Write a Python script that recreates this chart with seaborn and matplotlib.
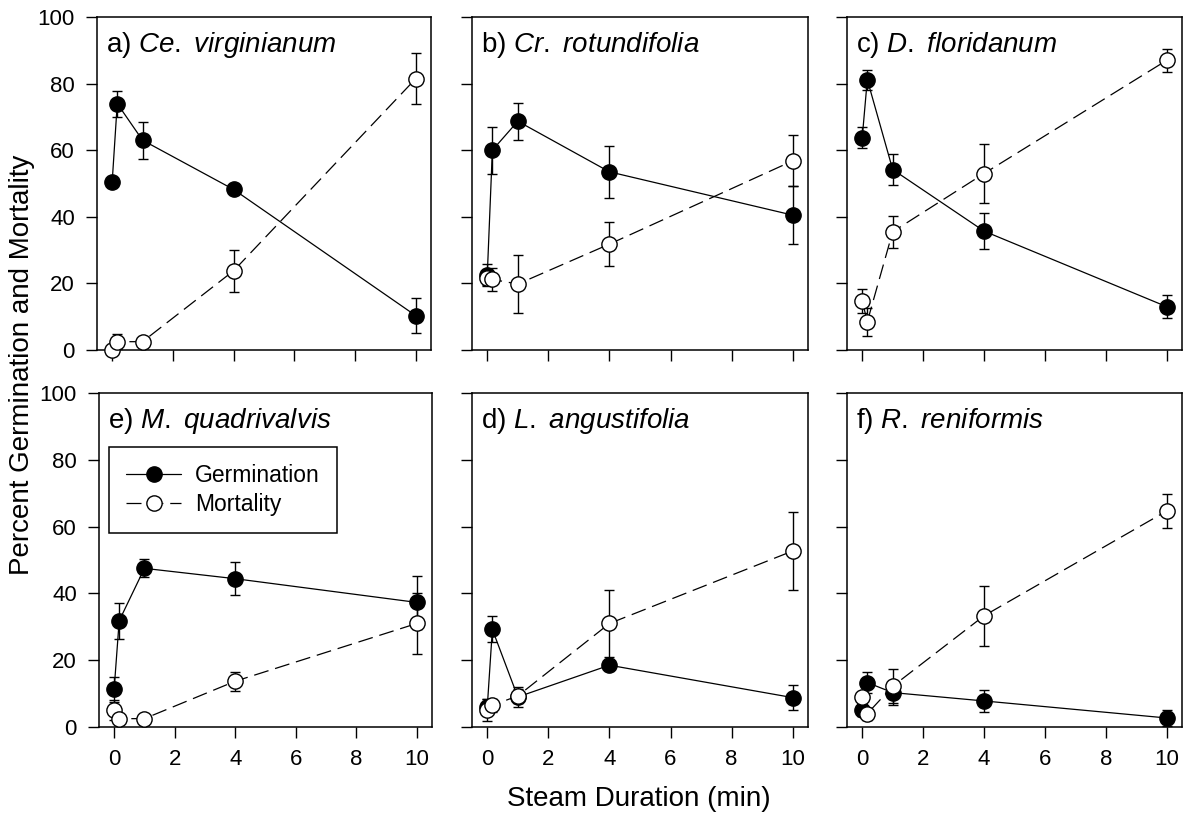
import matplotlib
matplotlib.use("Agg")
import matplotlib.pyplot as plt
import seaborn as sns
import numpy as np

# Steam exposure times (min); 0.167 min = 10 s
duration = [0, 0.167, 1, 4, 10]

panel_labels = ["a)", "b)", "c)", "e)", "d)", "f)"]
species = ["Ce. virginianum", "Cr. rotundifolia", "D. floridanum",
           "M. quadrivalvis", "L. angustifolia", "R. reniformis"]

# Percent germination (mean) and standard error
germ_cv = [50.5, 74.0, 63.0, 48.2, 10.3]
germ_cv_se = [1.2, 3.9, 5.5, 1.0, 5.3]
germ_cr = [22.5, 60.0, 68.7, 53.5, 40.5]
germ_cr_se = [3.3, 7.0, 5.5, 7.8, 8.6]
germ_df = [63.8, 81.2, 54.2, 35.7, 13.0]
germ_df_se = [3.2, 3.0, 4.7, 5.3, 3.5]
germ_mq = [11.3, 31.8, 47.5, 44.4, 37.3]
germ_mq_se = [3.7, 5.4, 2.7, 5.0, 8.0]
germ_la = [6.0, 29.2, 9.0, 18.5, 8.8]
germ_la_se = [2.5, 3.9, 3.0, 1.0, 3.7]
germ_rr = [5.2, 13.3, 10.3, 7.8, 2.7]
germ_rr_se = [2.0, 3.2, 3.6, 3.3, 2.3]

# Percent mortality (mean) and standard error
mort_cv = [0.0, 2.5, 2.5, 23.8, 81.5]
mort_cv_se = [0.0, 2.2, 0.6, 6.3, 7.6]
mort_cr = [21.5, 21.2, 19.8, 31.8, 56.8]
mort_cr_se = [2.0, 3.5, 8.6, 6.6, 7.7]
mort_df = [14.7, 8.5, 35.5, 53.0, 87.0]
mort_df_se = [3.6, 4.2, 4.8, 9.0, 3.4]
mort_mq = [5.0, 2.5, 2.5, 13.7, 31.0]
mort_mq_se = [3.0, 1.0, 0.5, 2.9, 9.1]
mort_la = [5.0, 6.5, 9.3, 31.0, 52.7]
mort_la_se = [3.3, 2.0, 2.0, 10.0, 11.6]
mort_rr = [9.0, 4.0, 12.2, 33.3, 64.7]
mort_rr_se = [1.5, 1.8, 5.1, 9.0, 5.0]

germination = [germ_cv, germ_cr, germ_df, germ_mq, germ_la, germ_rr]
germination_se = [germ_cv_se, germ_cr_se, germ_df_se, germ_mq_se, germ_la_se, germ_rr_se]
mortality = [mort_cv, mort_cr, mort_df, mort_mq, mort_la, mort_rr]
mortality_se = [mort_cv_se, mort_cr_se, mort_df_se, mort_mq_se, mort_la_se, mort_rr_se]

x_ticks = [0, 2, 4, 6, 8, 10]
y_ticks = [0, 20, 40, 60, 80, 100]

sns.set_theme(style="ticks")
plt.rcParams["font.family"] = ["Liberation Sans", "DejaVu Sans"]
plt.rcParams["mathtext.fontset"] = "custom"
plt.rcParams["mathtext.rm"] = "Liberation Sans"
plt.rcParams["mathtext.it"] = "Liberation Sans:italic"
plt.rcParams["text.color"] = "black"
plt.rcParams["axes.labelcolor"] = "black"
plt.rcParams["xtick.color"] = "black"
plt.rcParams["ytick.color"] = "black"
plt.rcParams["axes.linewidth"] = 1.1
plt.rcParams["xtick.major.width"] = 1.0
plt.rcParams["ytick.major.width"] = 1.0

W, H = 1185, 816
fig = plt.figure(figsize=(W / 100, H / 100), dpi=100)
fig.patch.set_facecolor("white")

# panel boxes in pixels: (left, top, right, bottom)
boxes = [
    (97, 17, 431, 350), (472, 17, 808, 350), (847, 17, 1182, 350),
    (99, 393, 432, 727), (472, 393, 808, 727), (847, 393, 1182, 727),
]

dash = (0, (12, 5.5))
for i, (l, t, r, b) in enumerate(boxes):
    ax = fig.add_axes([l / W, 1 - b / H, (r - l) / W, (b - t) / H])
    ax.set_facecolor("white")
    row, col = divmod(i, 3)

    ax.errorbar(duration, germination[i], yerr=germination_se[i], fmt="none",
                ecolor="black", elinewidth=1.0, capsize=3.8, capthick=1.0,
                zorder=1.5, clip_on=False)
    ax.errorbar(duration, mortality[i], yerr=mortality_se[i], fmt="none",
                ecolor="black", elinewidth=1.0, capsize=3.8, capthick=1.0,
                zorder=2.5, clip_on=False)

    sns.lineplot(x=duration, y=germination[i], ax=ax, color="black",
                 linewidth=0.9, marker="o", markersize=11,
                 markerfacecolor="black", markeredgecolor="black",
                 markeredgewidth=1.0, errorbar=None, sort=False,
                 label="Germination", legend=False, zorder=2, clip_on=False)
    sns.lineplot(x=duration, y=mortality[i], ax=ax, color="black",
                 linewidth=0.9, linestyle=dash, marker="o", markersize=11,
                 markerfacecolor="white", markeredgecolor="black",
                 markeredgewidth=1.0, errorbar=None, sort=False,
                 label="Mortality", legend=False, zorder=3, clip_on=False)

    ax.set_xlim(-0.5, 10.5)
    ax.set_ylim(0, 100)
    ax.set_xticks(x_ticks)
    ax.set_yticks(y_ticks)
    ax.tick_params(axis="both", direction="out", length=8, pad=8,
                   labelsize=16, color="black", labelcolor="black")
    if row == 0:
        ax.set_xticklabels([])
    if col != 0:
        ax.set_yticklabels([])
    ax.set_xlabel("")
    ax.set_ylabel("")
    for s in ax.spines.values():
        s.set_visible(True)
        s.set_color("black")

    name = species[i].replace(" ", r"\ ")
    ax.annotate(panel_labels[i] + r" $\it{" + name + "}$",
                xy=(0, 1), xycoords="axes fraction",
                xytext=(9, -35), textcoords="offset pixels",
                ha="left", va="baseline", fontsize=20, color="black")

    if i == 3:
        leg = ax.legend(loc="upper left", bbox_to_anchor=(0.03, 0.838),
                        borderaxespad=0, frameon=True, fancybox=False,
                        edgecolor="black", fontsize=16.5, handlelength=2.4,
                        handletextpad=0.6, labelspacing=0.25, borderpad=0.75,
                        labelcolor="black")
        leg.get_frame().set_linewidth(1.1)
        leg.get_frame().set_facecolor("white")
        leg.get_frame().set_alpha(1)

fig.text(22 / W, 1 - 365 / H, "Percent Germination and Mortality",
         rotation=90, ha="center", va="center", fontsize=20, color="black")
fig.text(639 / W, 1 - 806 / H, "Steam Duration (min)",
         ha="center", va="baseline", fontsize=20, color="black")

fig.savefig("out.png", dpi=100, facecolor="white")
